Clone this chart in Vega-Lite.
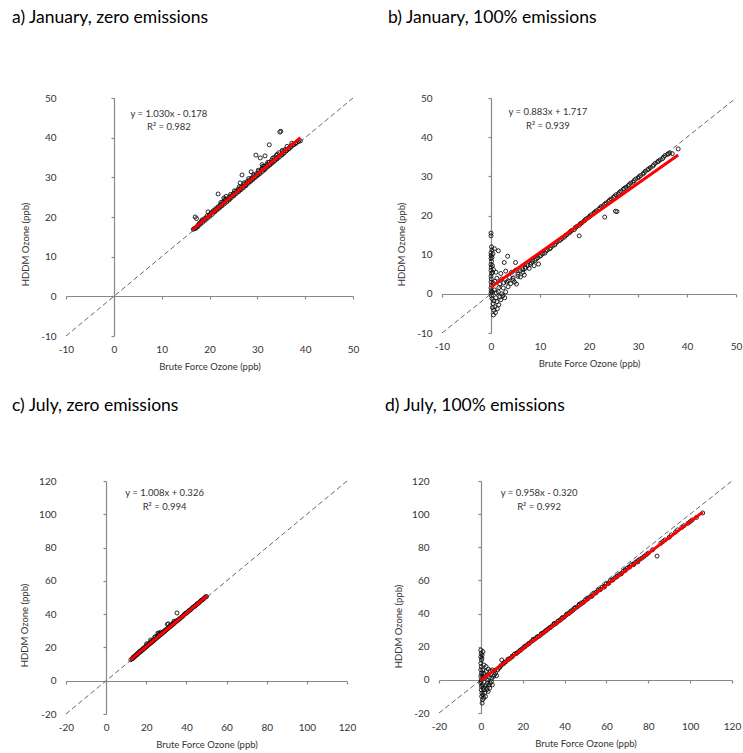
{
  "$schema": "https://vega.github.io/schema/vega-lite/v6.json",
  "background": "white",
  "padding": {"left": 12, "top": 8, "right": 5, "bottom": 5},
  "config": {
    "view": {"stroke": null},
    "font": "Lato",
    "axis": {
      "grid": false,
      "domainColor": "#888888",
      "domainWidth": 1.2,
      "tickColor": "#888888",
      "tickWidth": 1.2,
      "tickSize": 3,
      "tickCount": 20,
      "labelFont": "Lato",
      "labelFontSize": 10,
      "labelColor": "#333333",
      "labelFlush": false,
      "labelOverlap": false,
      "labelExpr": "'' + datum.value",
      "titleFont": "Lato",
      "titleFontSize": 9.5,
      "titleFontWeight": "normal",
      "titleColor": "#333333"
    },
    "title": {"font": "Lato", "fontSize": 17.5, "fontWeight": "normal", "color": "#000000", "anchor": "start", "frame": "group"}
  },
  "datasets": {
    "pa": [
      {"x":16.6,"y":16.9},{"x":16.8,"y":17.1},{"x":17.0,"y":20.0},{"x":17.3,"y":19.6},{"x":17.2,"y":17.4},{"x":17.5,"y":17.8},{"x":17.8,"y":18.3},{"x":18.0,"y":18.4},{"x":18.3,"y":18.9},{"x":18.5,"y":19.3},{"x":18.8,"y":19.2},{"x":19.0,"y":19.6},{"x":19.3,"y":19.8},{"x":19.5,"y":20.3},{"x":19.7,"y":21.3},{"x":20.0,"y":20.5},{"x":20.3,"y":21.0},{"x":20.5,"y":21.1},{"x":20.8,"y":21.6},{"x":21.0,"y":21.5},{"x":21.3,"y":22.1},{"x":21.5,"y":22.0},{"x":21.8,"y":25.8},{"x":21.8,"y":22.6},{"x":22.0,"y":22.5},{"x":22.3,"y":23.2},{"x":22.5,"y":23.0},{"x":22.8,"y":23.8},{"x":23.0,"y":23.6},{"x":23.0,"y":24.8},{"x":23.3,"y":24.2},{"x":23.5,"y":25.2},{"x":23.7,"y":24.3},{"x":24.0,"y":24.9},{"x":24.2,"y":24.6},{"x":24.5,"y":25.3},{"x":24.8,"y":25.4},{"x":25.0,"y":25.9},{"x":25.3,"y":26.0},{"x":25.5,"y":26.5},{"x":25.8,"y":26.4},{"x":26.0,"y":27.0},{"x":26.3,"y":27.0},{"x":26.4,"y":28.6},{"x":26.6,"y":27.5},{"x":26.8,"y":30.6},{"x":27.0,"y":27.7},{"x":27.3,"y":28.3},{"x":27.5,"y":28.1},{"x":27.8,"y":28.9},{"x":28.0,"y":28.7},{"x":28.3,"y":29.3},{"x":28.5,"y":29.1},{"x":28.7,"y":31.4},{"x":28.8,"y":29.8},{"x":29.0,"y":29.7},{"x":29.3,"y":30.4},{"x":29.5,"y":30.2},{"x":29.7,"y":35.6},{"x":29.8,"y":30.9},{"x":30.0,"y":30.7},{"x":30.3,"y":31.5},{"x":30.6,"y":34.9},{"x":30.5,"y":31.2},{"x":30.8,"y":31.9},{"x":31.0,"y":32.3},{"x":31.0,"y":33.2},{"x":31.3,"y":32.0},{"x":31.6,"y":35.4},{"x":31.5,"y":32.8},{"x":31.8,"y":32.6},{"x":32.0,"y":33.3},{"x":32.3,"y":33.0},{"x":32.5,"y":38.2},{"x":32.5,"y":33.8},{"x":32.8,"y":33.6},{"x":33.0,"y":34.3},{"x":33.3,"y":34.0},{"x":33.5,"y":35.0},{"x":33.8,"y":34.7},{"x":34.0,"y":35.6},{"x":34.3,"y":35.1},{"x":34.5,"y":36.2},{"x":34.7,"y":41.4},{"x":34.9,"y":41.6},{"x":35.0,"y":35.8},{"x":35.3,"y":36.5},{"x":35.5,"y":36.3},{"x":35.8,"y":37.0},{"x":36.0,"y":36.8},{"x":36.5,"y":37.3},{"x":37.0,"y":37.9},{"x":37.5,"y":38.3},{"x":38.0,"y":38.6},{"x":38.5,"y":39.0},{"x":39.0,"y":39.2},
      {"x":17.1,"y":17.1},{"x":17.6,"y":17.6},{"x":18.1,"y":18.2},{"x":18.6,"y":18.7},{"x":19.1,"y":19.2},{"x":19.6,"y":19.7},{"x":20.1,"y":20.2},{"x":20.6,"y":20.7},{"x":21.1,"y":21.3},{"x":21.6,"y":21.8},{"x":22.1,"y":22.3},{"x":22.6,"y":22.8},{"x":23.1,"y":23.3},{"x":23.6,"y":23.8},{"x":24.1,"y":24.3},{"x":24.6,"y":24.9},{"x":25.1,"y":25.4},{"x":25.6,"y":25.9},{"x":26.1,"y":26.4},{"x":26.6,"y":26.9},{"x":27.1,"y":27.4},{"x":27.6,"y":27.9},{"x":28.1,"y":28.5},{"x":28.6,"y":29.0},{"x":29.1,"y":29.5},{"x":29.6,"y":30.0},{"x":30.1,"y":30.5},{"x":30.6,"y":31.0},{"x":31.1,"y":31.5},{"x":31.6,"y":32.0},{"x":32.1,"y":32.6},{"x":32.6,"y":33.1},{"x":33.1,"y":33.6},{"x":33.6,"y":34.1},{"x":34.1,"y":34.6},{"x":34.6,"y":35.1},{"x":35.1,"y":35.6},{"x":35.6,"y":36.1},{"x":36.1,"y":36.7},{"x":36.6,"y":37.2},{"x":37.1,"y":37.7},{"x":37.6,"y":38.2},{"x":38.1,"y":38.6},{"x":38.6,"y":39.1},
      {"x":22.4,"y":23.7},{"x":23.2,"y":24.5},{"x":24.4,"y":25.7},{"x":25.2,"y":26.6},{"x":26.2,"y":27.6},{"x":27.2,"y":28.6},{"x":28.2,"y":29.7},{"x":29.2,"y":30.7},{"x":30.2,"y":31.8},{"x":31.2,"y":32.8},{"x":32.2,"y":33.8},{"x":33.2,"y":34.8},{"x":34.2,"y":35.8},{"x":35.2,"y":36.8},{"x":36.2,"y":37.8},{"x":37.2,"y":38.6}
    ],
    "pb": [
      {"x":0.0,"y":15.5},{"x":0.0,"y":14.8},{"x":0.1,"y":12.0},{"x":0.0,"y":10.5},{"x":0.05,"y":9.8},{"x":0.0,"y":9.0},{"x":0.1,"y":8.3},{"x":0.0,"y":7.5},{"x":0.05,"y":6.8},{"x":0.0,"y":6.0},{"x":0.1,"y":5.2},{"x":0.0,"y":4.5},{"x":0.05,"y":3.8},{"x":0.0,"y":3.0},{"x":0.1,"y":2.2},{"x":0.0,"y":1.5},{"x":0.05,"y":0.8},{"x":0.0,"y":0.2},{"x":0.1,"y":-0.5},{"x":0.2,"y":-1.2},
      {"x":0.5,"y":-5.4},{"x":0.6,"y":-4.2},{"x":1.6,"y":-2.8},{"x":0.8,"y":-3.3},{"x":1.2,"y":-2.0},{"x":2.0,"y":-1.5},{"x":0.4,"y":-2.5},{"x":1.0,"y":-1.0},{"x":2.4,"y":-0.5},{"x":1.5,"y":0.5},{"x":0.7,"y":1.0},{"x":3.0,"y":0.5},{"x":2.5,"y":1.5},{"x":1.8,"y":2.5},{"x":3.5,"y":1.8},{"x":4.0,"y":2.6},{"x":1.2,"y":4.0},{"x":2.2,"y":3.8},{"x":0.7,"y":11.5},{"x":1.5,"y":11.0},{"x":2.7,"y":8.0},{"x":3.4,"y":9.6},{"x":5.0,"y":8.0},{"x":1.0,"y":5.5},{"x":2.0,"y":5.2},{"x":3.0,"y":5.8},{"x":4.2,"y":5.5},{"x":5.0,"y":6.0},{"x":5.5,"y":4.5},{"x":6.0,"y":4.3},{"x":4.5,"y":3.5},{"x":6.5,"y":5.5},{"x":7.0,"y":6.5},{"x":3.2,"y":3.0},
      {"x":7.5,"y":7.2},{"x":8.0,"y":7.5},{"x":8.5,"y":8.3},{"x":9.0,"y":8.5},{"x":9.5,"y":9.2},{"x":9.7,"y":7.6},{"x":10.0,"y":9.6},{"x":10.5,"y":10.2},{"x":11.0,"y":10.4},{"x":11.5,"y":11.2},{"x":12.0,"y":11.5},{"x":12.5,"y":12.2},{"x":13.0,"y":12.5},{"x":13.5,"y":13.3},{"x":14.0,"y":13.6},{"x":14.5,"y":14.1},{"x":15.0,"y":14.5},{"x":15.5,"y":15.1},{"x":16.0,"y":15.6},{"x":16.5,"y":16.2},{"x":17.0,"y":16.4},{"x":17.5,"y":17.2},{"x":18.0,"y":14.8},{"x":18.0,"y":17.5},{"x":18.5,"y":18.1},{"x":19.0,"y":18.6},{"x":19.5,"y":19.2},{"x":20.0,"y":19.6},{"x":20.5,"y":20.2},{"x":21.0,"y":20.6},{"x":21.5,"y":21.2},{"x":22.0,"y":21.6},{"x":22.5,"y":22.3},{"x":23.0,"y":22.5},{"x":23.2,"y":19.6},{"x":23.5,"y":23.2},{"x":24.0,"y":23.6},{"x":24.5,"y":24.2},{"x":25.0,"y":24.6},{"x":25.4,"y":21.1},{"x":25.7,"y":21.0},{"x":25.5,"y":25.3},{"x":26.0,"y":25.5},{"x":26.5,"y":26.2},{"x":27.0,"y":26.7},{"x":27.5,"y":27.2},{"x":28.0,"y":27.6},{"x":28.5,"y":28.3},{"x":29.0,"y":28.5},{"x":29.5,"y":29.3},{"x":30.0,"y":29.6},{"x":30.5,"y":30.2},{"x":31.0,"y":30.6},{"x":31.5,"y":31.3},{"x":32.0,"y":31.7},{"x":32.5,"y":32.2},{"x":33.0,"y":32.6},{"x":33.5,"y":33.3},{"x":34.0,"y":33.7},{"x":34.5,"y":34.2},{"x":35.0,"y":34.5},{"x":35.5,"y":35.3},{"x":36.0,"y":35.6},{"x":36.5,"y":36.0},{"x":37.0,"y":35.8},{"x":38.2,"y":37.0},
      {"x":3.5,"y":3.3},{"x":4.5,"y":4.0},{"x":5.5,"y":5.0},{"x":6.0,"y":5.9},{"x":6.5,"y":6.2},{"x":7.0,"y":6.8},{"x":8.2,"y":7.9},{"x":9.2,"y":8.9},{"x":10.2,"y":9.8},{"x":11.2,"y":10.9},{"x":12.2,"y":11.8},{"x":13.2,"y":12.9},{"x":14.2,"y":13.9},{"x":15.2,"y":14.9},{"x":16.2,"y":15.9},{"x":17.2,"y":16.9},{"x":18.2,"y":17.9},{"x":19.2,"y":18.9},{"x":20.2,"y":19.9},{"x":21.2,"y":20.9},{"x":22.2,"y":21.9},{"x":23.2,"y":22.9},{"x":24.2,"y":23.9},{"x":25.2,"y":24.9},{"x":26.2,"y":25.9},{"x":27.2,"y":26.9},{"x":28.2,"y":27.9},{"x":29.2,"y":28.9},{"x":30.2,"y":29.9},{"x":31.2,"y":30.9},{"x":32.2,"y":31.9},{"x":33.2,"y":32.9},{"x":34.2,"y":33.9},{"x":35.2,"y":34.9},{"x":36.2,"y":35.8},
      {"x":0.3,"y":-3.5},{"x":0.9,"y":-4.8},{"x":1.3,"y":-3.8},{"x":0.6,"y":-1.8},{"x":1.8,"y":-0.8},{"x":2.8,"y":-1.0},{"x":1.1,"y":0.2},{"x":2.2,"y":0.0},{"x":0.4,"y":2.8},{"x":0.8,"y":3.2},{"x":1.6,"y":1.6},{"x":2.6,"y":2.8},{"x":0.2,"y":0.5},{"x":0.3,"y":5.5},{"x":0.3,"y":7.2},{"x":0.2,"y":9.3},{"x":0.4,"y":10.2},{"x":0.2,"y":11.2},{"x":0.5,"y":6.2},{"x":4.8,"y":3.0},{"x":5.2,"y":2.5},{"x":3.8,"y":4.2},{"x":6.8,"y":4.8},{"x":7.8,"y":6.5},{"x":8.8,"y":7.2}
    ],
    "pc": [
      {"x":12.3,"y":12.6},{"x":13.0,"y":13.3},{"x":13.5,"y":14.2},{"x":14.0,"y":14.3},{"x":14.5,"y":15.2},{"x":15.0,"y":15.4},{"x":15.5,"y":16.3},{"x":16.0,"y":16.4},{"x":16.5,"y":17.5},{"x":17.0,"y":17.3},{"x":17.5,"y":18.4},{"x":18.0,"y":18.4},{"x":18.5,"y":19.5},{"x":19.0,"y":19.3},{"x":19.5,"y":20.4},{"x":20.0,"y":20.4},{"x":20.5,"y":21.7},{"x":21.0,"y":21.4},{"x":21.5,"y":22.5},{"x":22.0,"y":22.4},{"x":22.5,"y":23.8},{"x":23.0,"y":23.4},{"x":23.5,"y":24.4},{"x":24.0,"y":24.4},{"x":24.5,"y":26.5},{"x":25.0,"y":25.4},{"x":25.5,"y":26.8},{"x":26.0,"y":26.4},{"x":26.5,"y":28.0},{"x":27.0,"y":27.4},{"x":27.5,"y":28.6},{"x":28.0,"y":28.4},{"x":28.5,"y":29.5},{"x":29.0,"y":29.4},{"x":29.5,"y":30.5},{"x":30.0,"y":30.5},{"x":30.5,"y":33.8},{"x":31.0,"y":31.5},{"x":31.5,"y":32.6},{"x":32.0,"y":32.5},{"x":32.5,"y":33.6},{"x":33.0,"y":33.5},{"x":33.5,"y":34.6},{"x":34.0,"y":34.5},{"x":35.3,"y":40.7},{"x":35.0,"y":35.6},{"x":36.0,"y":36.5},{"x":37.0,"y":37.6},{"x":38.0,"y":38.6},{"x":39.0,"y":40.0},{"x":40.0,"y":40.6},{"x":41.0,"y":41.8},{"x":42.0,"y":42.6},{"x":43.0,"y":43.8},{"x":44.0,"y":44.6},{"x":45.0,"y":45.7},{"x":46.0,"y":46.6},{"x":47.0,"y":47.8},{"x":48.0,"y":48.6},{"x":49.0,"y":49.7},{"x":50.0,"y":50.6},
      {"x":13.4,"y":13.5},{"x":14.4,"y":14.6},{"x":15.4,"y":15.6},{"x":16.4,"y":16.8},{"x":17.4,"y":17.7},{"x":18.4,"y":18.8},{"x":19.4,"y":19.8},{"x":20.4,"y":20.9},{"x":21.4,"y":21.9},{"x":22.4,"y":22.9},{"x":23.4,"y":24.0},{"x":24.4,"y":25.0},{"x":25.4,"y":26.1},{"x":26.4,"y":27.1},{"x":27.4,"y":28.1},{"x":28.4,"y":29.1},{"x":29.4,"y":30.1},{"x":30.4,"y":31.2},{"x":31.4,"y":32.2},{"x":32.4,"y":33.2},{"x":33.4,"y":34.3},{"x":34.4,"y":35.3},{"x":35.4,"y":36.3},{"x":36.5,"y":37.2},{"x":37.5,"y":38.2},{"x":38.5,"y":39.2},{"x":39.5,"y":40.4},{"x":40.5,"y":41.2},{"x":41.5,"y":42.3},{"x":42.5,"y":43.2},{"x":43.5,"y":44.4},{"x":44.5,"y":45.2},{"x":45.5,"y":46.4},{"x":46.5,"y":47.2},{"x":47.5,"y":48.4},{"x":48.5,"y":49.2},{"x":49.5,"y":50.4},
      {"x":20.2,"y":22.2},{"x":22.2,"y":24.5},{"x":24.2,"y":26.0},{"x":26.2,"y":28.4},{"x":25.8,"y":28.6},{"x":27.2,"y":29.2},{"x":31.0,"y":34.2},{"x":33.8,"y":35.8}
    ],
    "pd": [
      {"x":0.0,"y":18},{"x":0.2,"y":16},{"x":0.0,"y":14},{"x":0.3,"y":12},{"x":0.0,"y":10},{"x":0.2,"y":8},{"x":0.0,"y":6},{"x":0.3,"y":4},{"x":0.0,"y":2},{"x":0.2,"y":0},{"x":0.0,"y":-2},{"x":0.3,"y":-4},{"x":0.2,"y":-6},{"x":0.5,"y":-8},{"x":0.4,"y":-10},{"x":0.8,"y":-12},{"x":1.0,"y":-9},{"x":1.5,"y":-6},{"x":2.0,"y":-4},{"x":2.5,"y":-3},{"x":3.0,"y":-5},{"x":3.5,"y":-7},{"x":4.0,"y":-3},{"x":4.5,"y":-2},{"x":5.0,"y":-1},{"x":1.0,"y":2},{"x":2.0,"y":1},{"x":3.0,"y":0},{"x":1.5,"y":4},{"x":2.5,"y":5},{"x":3.5,"y":6.5},{"x":4.5,"y":5.5},{"x":5.5,"y":6},{"x":6.5,"y":5.5},{"x":7.0,"y":4},{"x":6.0,"y":2},{"x":8.0,"y":6},{"x":9.0,"y":7.5},{"x":10.0,"y":12},{"x":11.0,"y":10},{"x":12.0,"y":11},{"x":13.0,"y":12.5},{"x":14.0,"y":13},{"x":15.0,"y":14},{"x":16.0,"y":15.5},{"x":17.0,"y":16},{"x":18.0,"y":17},{"x":19.0,"y":18},{"x":20.0,"y":19},{"x":21.0,"y":20},{"x":22.0,"y":21},{"x":23.0,"y":22},{"x":24.0,"y":23},{"x":25.0,"y":24.5},{"x":26.0,"y":24.8},{"x":27.0,"y":26},{"x":28.0,"y":26.5},{"x":29.0,"y":28},{"x":30.0,"y":28.5},{"x":31.0,"y":29.5},{"x":32.0,"y":30.5},{"x":33.0,"y":31.5},{"x":34.0,"y":32.5},{"x":35.0,"y":34},{"x":36.0,"y":34},{"x":37.0,"y":35.5},{"x":38.0,"y":36},{"x":39.0,"y":37.5},{"x":40.0,"y":38},{"x":41.0,"y":39.5},{"x":42.0,"y":40},{"x":43.0,"y":41.5},{"x":44.0,"y":42},{"x":45.0,"y":43.5},{"x":46.0,"y":44},{"x":47.0,"y":45.5},{"x":48.0,"y":46},{"x":49.0,"y":47},{"x":50.0,"y":48},{"x":51.0,"y":49},{"x":52.0,"y":50},{"x":53.0,"y":50.5},{"x":54.0,"y":52},{"x":55.0,"y":52.5},{"x":56.0,"y":54},{"x":57.0,"y":54.5},{"x":58.0,"y":56},{"x":59.0,"y":56},{"x":60.0,"y":58},{"x":61.0,"y":58.5},{"x":62.0,"y":60},{"x":63.0,"y":60.5},{"x":64.0,"y":61.5},{"x":65.0,"y":62.5},{"x":66.0,"y":63.5},{"x":67.0,"y":64},{"x":68.0,"y":65.5},{"x":69.0,"y":66},{"x":70.0,"y":67.5},{"x":71.0,"y":68},{"x":72.0,"y":69.5},{"x":73.0,"y":69.5},{"x":74.0,"y":71},{"x":75.0,"y":72},{"x":77.0,"y":73.5},{"x":79.0,"y":75.5},{"x":84.2,"y":74.7},{"x":86.0,"y":82.5},{"x":88.0,"y":84.5},{"x":91.0,"y":87.5},{"x":94.0,"y":90.5},{"x":97.0,"y":93},{"x":100.0,"y":95.5},{"x":103.0,"y":98},{"x":106.0,"y":100.7},
      {"x":11,"y":10.4},{"x":13,"y":12.2},{"x":15,"y":14.3},{"x":17,"y":16.1},{"x":19,"y":18.0},{"x":21,"y":20.2},{"x":23,"y":21.9},{"x":25,"y":23.8},{"x":27,"y":25.8},{"x":29,"y":27.6},{"x":31,"y":29.7},{"x":33,"y":31.5},{"x":35,"y":33.4},{"x":37,"y":35.4},{"x":39,"y":37.2},{"x":41,"y":39.3},{"x":43,"y":41.0},{"x":45,"y":43.2},{"x":47,"y":45.0},{"x":49,"y":46.8},{"x":51,"y":48.8},{"x":53,"y":50.6},{"x":55,"y":52.8},{"x":57,"y":54.5},{"x":59,"y":56.5},{"x":61,"y":58.2},{"x":63,"y":60.2},{"x":65,"y":62.2},{"x":67,"y":64.0},{"x":69,"y":66.5},{"x":71,"y":68.2},{"x":73,"y":70.0},{"x":75,"y":71.2},{"x":76,"y":72.8},{"x":78,"y":74.5},{"x":80,"y":76.5},{"x":82,"y":78.5},{"x":87,"y":83.5},{"x":90,"y":86.0},{"x":93,"y":89.2},{"x":96,"y":92},{"x":99,"y":94.5},{"x":101,"y":96.5},
      {"x":0.5,"y":3},{"x":0.1,"y":-1},{"x":0.6,"y":-3},{"x":1.2,"y":-5},{"x":1.8,"y":-8},{"x":2.2,"y":-10},{"x":1.4,"y":-11},{"x":0.6,"y":-14},{"x":2.8,"y":-6},{"x":3.2,"y":-2},{"x":4.2,"y":-5},{"x":5.5,"y":-3},{"x":5.2,"y":1},{"x":4,"y":1.5},{"x":6.5,"y":3},{"x":7.5,"y":2.5},{"x":2.5,"y":8},{"x":1.5,"y":9},{"x":0.9,"y":6},{"x":0.5,"y":13},{"x":0.6,"y":15},{"x":1,"y":17},{"x":3.5,"y":3},{"x":8.5,"y":7},{"x":9.5,"y":8.5},{"x":10.5,"y":9.5}
    ]
  },
  "vconcat": [
    {
      "hconcat": [
        {
          "width": 287, "height": 238,
          "title": {"text": "a) January, zero emissions", "dx": -54, "offset": 67},
          "layer": [
            {
              "data": {"values": [{"x": -10, "y": -10, "x2": 50, "y2": 50}]},
              "mark": {"type": "rule", "color": "#666666", "strokeDash": [5, 3], "strokeWidth": 1},
              "encoding": {
                "x": {"field": "x", "type": "quantitative", "scale": {"domain": [-10, 50], "nice": false, "zero": false},
                      "axis": {"values": [-10, 0, 10, 20, 30, 40, 50], "tickCount": 20, "labelOverlap": false, "offset": -40, "labelPadding": 45, "title": "Brute Force Ozone (ppb)", "titlePadding": 7}},
                "y": {"field": "y", "type": "quantitative", "scale": {"domain": [-10, 50], "nice": false, "zero": false},
                      "axis": {"values": [-10, 0, 10, 20, 30, 40, 50], "tickCount": 20, "labelOverlap": false, "offset": -48, "labelPadding": 55, "title": "HDDM Ozone (ppb)", "titleX": -89, "titleY": 146, "titleBaseline": "middle"}},
                "x2": {"field": "x2"}, "y2": {"field": "y2"}
              }
            },
            {
              "data": {"name": "pa"},
              "mark": {"type": "point", "shape": "circle", "filled": false, "size": 16, "color": "#111111", "strokeWidth": 0.9, "opacity": 1},
              "encoding": {"x": {"field": "x", "type": "quantitative"}, "y": {"field": "y", "type": "quantitative"}}
            },
            {
              "data": {"values": [{"x": 16.5, "y": 16.82, "x2": 39.0, "y2": 39.99}]},
              "mark": {"type": "rule", "color": "#ff0000", "strokeWidth": 3},
              "encoding": {"x": {"field": "x", "type": "quantitative"}, "y": {"field": "y", "type": "quantitative"}, "x2": {"field": "x2"}, "y2": {"field": "y2"}}
            },
            {
              "data": {"values": [{"x": 11.5, "y": 46.0, "label": "y = 1.030x - 0.178"}, {"x": 11.5, "y": 42.7, "label": "R² = 0.982"}]},
              "mark": {"type": "text", "fontSize": 9.5, "color": "#333333", "align": "center", "baseline": "middle", "font": "Lato"},
              "encoding": {"x": {"field": "x", "type": "quantitative"}, "y": {"field": "y", "type": "quantitative"}, "text": {"field": "label"}}
            }
          ]
        },
        {
          "width": 294, "height": 235,
          "title": {"text": "b) January, 100% emissions", "dx": -54, "offset": 67},
          "layer": [
            {
              "data": {"values": [{"x": -10, "y": -10, "x2": 50, "y2": 50}]},
              "mark": {"type": "rule", "color": "#666666", "strokeDash": [5, 3], "strokeWidth": 1},
              "encoding": {
                "x": {"field": "x", "type": "quantitative", "scale": {"domain": [-10, 50], "nice": false, "zero": false},
                      "axis": {"values": [-10, 0, 10, 20, 30, 40, 50], "tickCount": 20, "labelOverlap": false, "offset": -39, "labelPadding": 44, "title": "Brute Force Ozone (ppb)", "titlePadding": 7}},
                "y": {"field": "y", "type": "quantitative", "scale": {"domain": [-10, 50], "nice": false, "zero": false},
                      "axis": {"values": [-10, 0, 10, 20, 30, 40, 50], "tickCount": 20, "labelOverlap": false, "offset": -49, "labelPadding": 56, "title": "HDDM Ozone (ppb)", "titleX": -90, "titleY": 146, "titleBaseline": "middle"}},
                "x2": {"field": "x2"}, "y2": {"field": "y2"}
              }
            },
            {
              "data": {"name": "pb"},
              "mark": {"type": "point", "shape": "circle", "filled": false, "size": 16, "color": "#111111", "strokeWidth": 0.9, "opacity": 1},
              "encoding": {"x": {"field": "x", "type": "quantitative"}, "y": {"field": "y", "type": "quantitative"}}
            },
            {
              "data": {"values": [{"x": 0.0, "y": 1.717, "x2": 38.2, "y2": 35.45}]},
              "mark": {"type": "rule", "color": "#ff0000", "strokeWidth": 3},
              "encoding": {"x": {"field": "x", "type": "quantitative"}, "y": {"field": "y", "type": "quantitative"}, "x2": {"field": "x2"}, "y2": {"field": "y2"}}
            },
            {
              "data": {"values": [{"x": 11.6, "y": 46.4, "label": "y = 0.883x + 1.717"}, {"x": 11.6, "y": 42.85, "label": "R² = 0.939"}]},
              "mark": {"type": "text", "fontSize": 9.5, "color": "#333333", "align": "center", "baseline": "middle", "font": "Lato"},
              "encoding": {"x": {"field": "x", "type": "quantitative"}, "y": {"field": "y", "type": "quantitative"}, "text": {"field": "label"}}
            }
          ]
        }
      ],
      "spacing": 29
    },
    {
      "hconcat": [
        {
          "width": 281, "height": 233,
          "title": {"text": "c) July, zero emissions", "dx": -54, "offset": 62},
          "layer": [
            {
              "data": {"values": [{"x": -20, "y": -20, "x2": 120, "y2": 120}]},
              "mark": {"type": "rule", "color": "#666666", "strokeDash": [5, 3], "strokeWidth": 1},
              "encoding": {
                "x": {"field": "x", "type": "quantitative", "scale": {"domain": [-20, 120], "nice": false, "zero": false},
                      "axis": {"values": [-20, 0, 20, 40, 60, 80, 100, 120], "tickCount": 20, "labelOverlap": false, "offset": -33, "labelPadding": 38, "title": "Brute Force Ozone (ppb)", "titlePadding": 7}},
                "y": {"field": "y", "type": "quantitative", "scale": {"domain": [-20, 120], "nice": false, "zero": false},
                      "axis": {"values": [-20, 0, 20, 40, 60, 80, 100, 120], "tickCount": 20, "labelOverlap": false, "offset": -40, "labelPadding": 47, "title": "HDDM Ozone (ppb)", "titleX": -82, "titleY": 144, "titleBaseline": "middle"}},
                "x2": {"field": "x2"}, "y2": {"field": "y2"}
              }
            },
            {
              "data": {"name": "pc"},
              "mark": {"type": "point", "shape": "circle", "filled": false, "size": 16, "color": "#111111", "strokeWidth": 0.9, "opacity": 1},
              "encoding": {"x": {"field": "x", "type": "quantitative"}, "y": {"field": "y", "type": "quantitative"}}
            },
            {
              "data": {"values": [{"x": 12.2, "y": 12.62, "x2": 50.3, "y2": 51.03}]},
              "mark": {"type": "rule", "color": "#ff0000", "strokeWidth": 3},
              "encoding": {"x": {"field": "x", "type": "quantitative"}, "y": {"field": "y", "type": "quantitative"}, "x2": {"field": "x2"}, "y2": {"field": "y2"}}
            },
            {
              "data": {"values": [{"x": 29.1, "y": 112.8, "label": "y = 1.008x + 0.326"}, {"x": 29.1, "y": 104.4, "label": "R² = 0.994"}]},
              "mark": {"type": "text", "fontSize": 9.5, "color": "#333333", "align": "center", "baseline": "middle", "font": "Lato"},
              "encoding": {"x": {"field": "x", "type": "quantitative"}, "y": {"field": "y", "type": "quantitative"}, "text": {"field": "label"}}
            }
          ]
        },
        {
          "width": 293, "height": 232,
          "title": {"text": "d) July, 100% emissions", "dx": -54, "offset": 62},
          "layer": [
            {
              "data": {"values": [{"x": -20, "y": -20, "x2": 120, "y2": 120}]},
              "mark": {"type": "rule", "color": "#666666", "strokeDash": [5, 3], "strokeWidth": 1},
              "encoding": {
                "x": {"field": "x", "type": "quantitative", "scale": {"domain": [-20, 120], "nice": false, "zero": false},
                      "axis": {"values": [-20, 0, 20, 40, 60, 80, 100, 120], "tickCount": 20, "labelOverlap": false, "offset": -33, "labelPadding": 38, "title": "Brute Force Ozone (ppb)", "titlePadding": 7}},
                "y": {"field": "y", "type": "quantitative", "scale": {"domain": [-20, 120], "nice": false, "zero": false},
                      "axis": {"values": [-20, 0, 20, 40, 60, 80, 100, 120], "tickCount": 20, "labelOverlap": false, "offset": -42, "labelPadding": 49, "title": "HDDM Ozone (ppb)", "titleX": -83, "titleY": 145, "titleBaseline": "middle"}},
                "x2": {"field": "x2"}, "y2": {"field": "y2"}
              }
            },
            {
              "data": {"name": "pd"},
              "mark": {"type": "point", "shape": "circle", "filled": false, "size": 16, "color": "#111111", "strokeWidth": 0.9, "opacity": 1},
              "encoding": {"x": {"field": "x", "type": "quantitative"}, "y": {"field": "y", "type": "quantitative"}}
            },
            {
              "data": {"values": [{"x": 0.0, "y": -0.32, "x2": 106.0, "y2": 101.2}]},
              "mark": {"type": "rule", "color": "#ff0000", "strokeWidth": 3},
              "encoding": {"x": {"field": "x", "type": "quantitative"}, "y": {"field": "y", "type": "quantitative"}, "x2": {"field": "x2"}, "y2": {"field": "y2"}}
            },
            {
              "data": {"values": [{"x": 27.8, "y": 112.8, "label": "y = 0.958x - 0.320"}, {"x": 27.8, "y": 104.3, "label": "R² = 0.992"}]},
              "mark": {"type": "text", "fontSize": 9.5, "color": "#333333", "align": "center", "baseline": "middle", "font": "Lato"},
              "encoding": {"x": {"field": "x", "type": "quantitative"}, "y": {"field": "y", "type": "quantitative"}, "text": {"field": "label"}}
            }
          ]
        }
      ],
      "spacing": 29
    }
  ],
  "spacing": 25
}
